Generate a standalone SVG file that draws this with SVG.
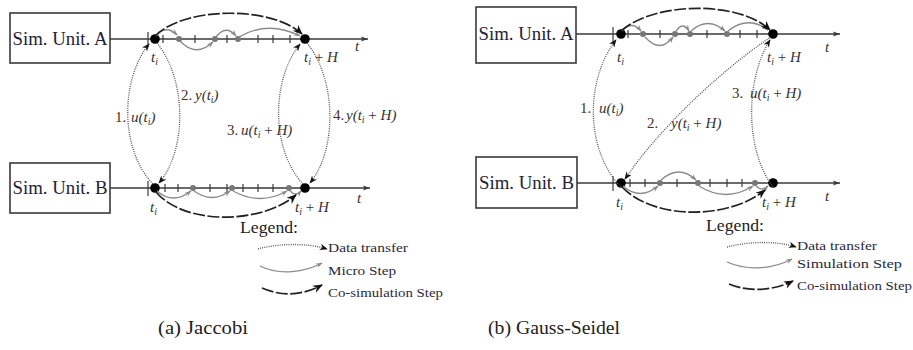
<svg xmlns="http://www.w3.org/2000/svg" width="913" height="350" viewBox="0 0 913 350">
<style>
.box{fill:#fff;stroke:#3a3a3a;stroke-width:1.6}
.bl{font-family:"Liberation Serif","DejaVu Serif",serif;font-size:18px;fill:#1e2238;text-anchor:middle}
.ax{stroke:#3a3a3a;stroke-width:1.4;fill:none}
.tk{stroke:#3a3a3a;stroke-width:1.2}
.dot{fill:#000}
.gd{fill:#777}
.it{font-family:"Liberation Serif","DejaVu Serif",serif;font-style:italic;font-size:15px;fill:#333}
.num{font-family:"Liberation Serif","DejaVu Serif",serif;font-size:15px;fill:#4a3018}
.sub{font-size:10px}
.up{font-style:normal}
.dt{fill:none;stroke:#555;stroke-width:1.3;stroke-dasharray:1 1.2}
.ms{fill:none;stroke:#8a8a8a;stroke-width:1.3}
.cs{fill:none;stroke:#222;stroke-width:1.7;stroke-dasharray:12 2.5}
.lg{font-family:"Liberation Serif","DejaVu Serif",serif;font-size:17px;fill:#222}
.lt{font-family:"Liberation Serif","DejaVu Serif",serif;font-size:13.5px;fill:#2a2a3a}
.cap{font-family:"Liberation Serif","DejaVu Serif",serif;font-size:19px;fill:#222}
</style>
<defs>
<marker id="ah" viewBox="0 0 10 10" refX="9" refY="5" markerWidth="8" markerHeight="8" markerUnits="userSpaceOnUse" orient="auto"><path d="M0,1 L10,5 L0,9 L3,5z" fill="#111"/></marker>
<marker id="ahc" viewBox="0 0 10 10" refX="9" refY="5" markerWidth="10" markerHeight="10" markerUnits="userSpaceOnUse" orient="auto"><path d="M0,1 L10,5 L0,9 L3,5z" fill="#111"/></marker>
<marker id="ahg" viewBox="0 0 10 10" refX="9" refY="5" markerWidth="7" markerHeight="7" markerUnits="userSpaceOnUse" orient="auto"><path d="M0,1.5 L10,5 L0,8.5 L3.5,5z" fill="#888"/></marker>
<marker id="axh" viewBox="0 0 10 10" refX="10" refY="5" markerWidth="7" markerHeight="7" markerUnits="userSpaceOnUse" orient="auto"><path d="M0,1.5 L10,5 L0,8.5 L2,5z" fill="#3a3a3a"/></marker>
</defs>

<!-- ===== (a) Jaccobi ===== -->
<g id="a-unitA">
<line class="ax" x1="110" y1="39" x2="368" y2="39" marker-end="url(#axh)"/>
<rect class="box" x="10" y="13" width="100" height="50"/>
<text class="bl" x="60" y="45" textLength="95" lengthAdjust="spacingAndGlyphs">Sim. Unit. A</text>
<text class="it" x="355" y="51">t</text>
</g>
<g id="a-ticksA">
<line class="tk" x1="148" y1="32" x2="148" y2="47"/>
<line class="tk" x1="163" y1="35" x2="163" y2="43"/>
<line class="tk" x1="195" y1="35" x2="195" y2="43"/>
<line class="tk" x1="227" y1="35" x2="227" y2="43"/>
<line class="tk" x1="258" y1="35" x2="258" y2="43"/>
<line class="tk" x1="273" y1="35" x2="273" y2="43"/>
<line class="tk" x1="290" y1="35" x2="290" y2="43"/>
<circle class="gd" cx="179" cy="39" r="3"/>
<circle class="gd" cx="215" cy="39" r="3"/>
<circle class="gd" cx="238" cy="39" r="3"/>
</g>
<g id="a-A-ti"><circle class="dot" cx="155" cy="39" r="4.8"/><text class="it" x="151" y="62">t<tspan class="sub" dy="3">i</tspan></text></g>
<g id="a-A-tiH"><circle class="dot" cx="305" cy="39" r="4.8"/><text class="it" x="304" y="62">t<tspan class="sub" dy="3">i</tspan><tspan dy="-3" class="up"> + </tspan>H</text></g>

<g id="a-unitB">
<line class="ax" x1="110" y1="188" x2="370" y2="188" marker-end="url(#axh)"/>
<rect class="box" x="10" y="163" width="100" height="50"/>
<text class="bl" x="60" y="194" textLength="95" lengthAdjust="spacingAndGlyphs">Sim. Unit. B</text>
<text class="it" x="357" y="203">t</text>
</g>
<g id="a-ticksB">
<line class="tk" x1="148" y1="181" x2="148" y2="196"/>
<line class="tk" x1="165" y1="184" x2="165" y2="192"/>
<line class="tk" x1="178" y1="184" x2="178" y2="192"/>
<line class="tk" x1="210" y1="184" x2="210" y2="192"/>
<line class="tk" x1="227" y1="184" x2="227" y2="192"/>
<line class="tk" x1="243" y1="184" x2="243" y2="192"/>
<line class="tk" x1="258" y1="184" x2="258" y2="192"/>
<line class="tk" x1="273" y1="184" x2="273" y2="192"/>
<circle class="gd" cx="193" cy="188" r="3"/>
<circle class="gd" cx="232" cy="188" r="3"/>
<circle class="gd" cx="289" cy="188" r="3"/>
</g>
<g id="a-B-ti"><circle class="dot" cx="155" cy="188" r="4.8"/><text class="it" x="150" y="212">t<tspan class="sub" dy="3">i</tspan></text></g>
<g id="a-B-tiH"><circle class="dot" cx="305" cy="188" r="4.8"/><text class="it" x="295" y="212">t<tspan class="sub" dy="3">i</tspan><tspan dy="-3" class="up"> + </tspan>H</text></g>

<!-- ===== (b) Gauss-Seidel ===== -->
<g id="b-unitA">
<line class="ax" x1="575" y1="34" x2="840" y2="34" marker-end="url(#axh)"/>
<rect class="box" x="476" y="7" width="100" height="56"/>
<text class="bl" x="526" y="40" textLength="95" lengthAdjust="spacingAndGlyphs">Sim. Unit. A</text>
<text class="it" x="825" y="52">t</text>
</g>
<g id="b-ticksA">
<line class="tk" x1="613" y1="27" x2="613" y2="42"/>
<line class="tk" x1="628" y1="30" x2="628" y2="38"/>
<line class="tk" x1="660" y1="30" x2="660" y2="38"/>
<line class="tk" x1="707" y1="30" x2="707" y2="38"/>
<line class="tk" x1="740" y1="30" x2="740" y2="38"/>
<line class="tk" x1="757" y1="30" x2="757" y2="38"/>
<circle class="gd" cx="643" cy="34" r="3"/>
<circle class="gd" cx="675" cy="34" r="3"/>
<circle class="gd" cx="690" cy="34" r="3"/>
<circle class="gd" cx="727" cy="34" r="3"/>
</g>
<g id="b-A-ti"><circle class="dot" cx="621" cy="34" r="4.8"/><text class="it" x="617" y="62">t<tspan class="sub" dy="3">i</tspan></text></g>
<g id="b-A-tiH"><circle class="dot" cx="773" cy="34" r="4.8"/><text class="it" x="767" y="62">t<tspan class="sub" dy="3">i</tspan><tspan dy="-3" class="up"> + </tspan>H</text></g>

<g id="b-unitB">
<line class="ax" x1="576" y1="183" x2="840" y2="183" marker-end="url(#axh)"/>
<rect class="box" x="476" y="157" width="101" height="51"/>
<text class="bl" x="526.5" y="189" textLength="95" lengthAdjust="spacingAndGlyphs">Sim. Unit. B</text>
<text class="it" x="825" y="201">t</text>
</g>
<g id="b-ticksB">
<line class="tk" x1="613" y1="176" x2="613" y2="191"/>
<line class="tk" x1="630" y1="179" x2="630" y2="187"/>
<line class="tk" x1="645" y1="179" x2="645" y2="187"/>
<line class="tk" x1="677" y1="179" x2="677" y2="187"/>
<line class="tk" x1="710" y1="179" x2="710" y2="187"/>
<line class="tk" x1="727" y1="179" x2="727" y2="187"/>
<line class="tk" x1="742" y1="179" x2="742" y2="187"/>
<circle class="gd" cx="660" cy="183" r="3"/>
<circle class="gd" cx="698" cy="183" r="3"/>
<circle class="gd" cx="755" cy="183" r="3"/>
</g>
<g id="b-B-ti"><circle class="dot" cx="621" cy="183" r="4.8"/><text class="it" x="616" y="207">t<tspan class="sub" dy="3">i</tspan></text></g>
<g id="b-B-tiH"><circle class="dot" cx="773" cy="183" r="4.8"/><text class="it" x="762" y="207">t<tspan class="sub" dy="3">i</tspan><tspan dy="-3" class="up"> + </tspan>H</text></g>

<!-- ===== connectors ===== -->
<g id="connectors">
<!-- (a) micro steps A -->
<path class="ms" d="M156,36 Q166,24 177,35" marker-end="url(#ahg)"/>
<path class="ms" d="M180,41 Q196,58 213,42" marker-end="url(#ahg)"/>
<path class="ms" d="M216,37 Q226,24 236,36" marker-end="url(#ahg)"/>
<path class="ms" d="M239,37 Q268,20 300,36" marker-end="url(#ahg)"/>
<!-- (a) micro steps B -->
<path class="ms" d="M157,191 Q173,205 191,191" marker-end="url(#ahg)"/>
<path class="ms" d="M194,191 Q212,204 230,191" marker-end="url(#ahg)"/>
<path class="ms" d="M233,191 Q260,206 287,191" marker-end="url(#ahg)"/>
<path class="ms" d="M290,191 Q296,197 301,191" marker-end="url(#ahg)"/>
<!-- (a) co-sim steps -->
<path class="cs" d="M155,36 C185,6 272,6 302,34" marker-end="url(#ahc)"/>
<path class="cs" d="M156,192 C185,226 262,224 296,195" marker-end="url(#ahc)"/>
<!-- (a) data transfers -->
<path class="dt" d="M153,184 C120,150 120,80 149,44" marker-end="url(#ah)"/>
<path class="dt" d="M157,43 C187,80 187,150 159,183" marker-end="url(#ah)"/>
<path class="dt" d="M303,184 C271,150 271,80 300,44" marker-end="url(#ah)"/>
<path class="dt" d="M307,43 C337,80 337,150 310,183" marker-end="url(#ah)"/>

<!-- (b) micro steps A -->
<path class="ms" d="M622,31 Q632,20 641,31" marker-end="url(#ahg)"/>
<path class="ms" d="M645,37 Q660,54 673,37" marker-end="url(#ahg)"/>
<path class="ms" d="M676,31 Q683,21 689,31" marker-end="url(#ahg)"/>
<path class="ms" d="M691,31 Q708,16 725,31" marker-end="url(#ahg)"/>
<path class="ms" d="M728,31 Q748,15 768,30" marker-end="url(#ahg)"/>
<!-- (b) micro steps B -->
<path class="ms" d="M623,186 Q640,201 658,186" marker-end="url(#ahg)"/>
<path class="ms" d="M661,180 Q679,164 696,180" marker-end="url(#ahg)"/>
<path class="ms" d="M699,186 Q726,203 753,186" marker-end="url(#ahg)"/>
<path class="ms" d="M756,186 Q762,192 768,186" marker-end="url(#ahg)"/>
<!-- (b) co-sim steps -->
<path class="cs" d="M621,31 C655,1 740,1 770,30" marker-end="url(#ahc)"/>
<path class="cs" d="M622,187 C655,221 730,219 765,190" marker-end="url(#ahc)"/>
<!-- (b) data transfers -->
<path class="dt" d="M621,187 C585,150 585,80 616,40" marker-end="url(#ah)"/>
<path class="dt" d="M771,37 C735,60 665,120 625,179" marker-end="url(#ah)"/>
<path class="dt" d="M773,187 C745,150 745,80 770,40" marker-end="url(#ah)"/>
</g>

<!-- labels (a) -->
<g id="a-labels">
<text class="num" x="115" y="122">1.</text><text class="it" x="131" y="122">u(t<tspan class="sub" dy="3">i</tspan><tspan dy="-3">)</tspan></text>
<text class="num" x="181" y="100">2.</text><text class="it" x="195" y="100">y(t<tspan class="sub" dy="3">i</tspan><tspan dy="-3">)</tspan></text>
<text class="num" x="227" y="135">3.</text><text class="it" x="241" y="135">u(t<tspan class="sub" dy="3">i</tspan><tspan dy="-3" class="up"> + </tspan>H)</text>
<text class="num" x="333" y="120">4.</text><text class="it" x="346" y="120">y(t<tspan class="sub" dy="3">i</tspan><tspan dy="-3" class="up"> + </tspan>H)</text>
</g>
<!-- labels (b) -->
<g id="b-labels">
<text class="num" x="580" y="113">1.</text><text class="it" x="599" y="113">u(t<tspan class="sub" dy="3">i</tspan><tspan dy="-3">)</tspan></text>
<text class="num" x="647" y="128">2.</text><text class="it" x="671" y="128">y(t<tspan class="sub" dy="3">i</tspan><tspan dy="-3" class="up"> + </tspan>H)</text>
<text class="num" x="732" y="98">3.</text><text class="it" x="750" y="98">u(t<tspan class="sub" dy="3">i</tspan><tspan dy="-3" class="up"> + </tspan>H)</text>
</g>

<!-- legend (a) -->
<g id="a-legend">
<text class="lg" x="240" y="233" textLength="58" lengthAdjust="spacingAndGlyphs">Legend:</text>
<path class="dt" d="M258,249 C280,243 308,243 327,249" marker-end="url(#ah)"/>
<text class="lt" x="328" y="252" textLength="80" lengthAdjust="spacingAndGlyphs">Data transfer</text>
<path class="ms" d="M260,266 C280,276 305,272 322,263" marker-end="url(#ahg)"/>
<text class="lt" x="328" y="275" textLength="68" lengthAdjust="spacingAndGlyphs">Micro Step</text>
<path class="cs" d="M262,288 C285,298 305,294 322,285" marker-end="url(#ahc)"/>
<text class="lt" x="328" y="297" textLength="115" lengthAdjust="spacingAndGlyphs">Co-simulation Step</text>
</g>
<!-- legend (b) -->
<g id="b-legend">
<text class="lg" x="706" y="231" textLength="58" lengthAdjust="spacingAndGlyphs">Legend:</text>
<path class="dt" d="M727,247 C750,241 778,241 796,247" marker-end="url(#ah)"/>
<text class="lt" x="797" y="250" textLength="80" lengthAdjust="spacingAndGlyphs">Data transfer</text>
<path class="ms" d="M727,262 C750,272 775,268 792,259" marker-end="url(#ahg)"/>
<text class="lt" x="797" y="268" textLength="105" lengthAdjust="spacingAndGlyphs">Simulation Step</text>
<path class="cs" d="M729,284 C750,293 775,290 793,281" marker-end="url(#ahc)"/>
<text class="lt" x="797" y="290" textLength="115" lengthAdjust="spacingAndGlyphs">Co-simulation Step</text>
</g>

<!-- captions -->
<text class="cap" x="158" y="334" textLength="90" lengthAdjust="spacingAndGlyphs">(a) Jaccobi</text>
<text class="cap" x="488" y="334" textLength="132" lengthAdjust="spacingAndGlyphs">(b) Gauss-Seidel</text>
</svg>
